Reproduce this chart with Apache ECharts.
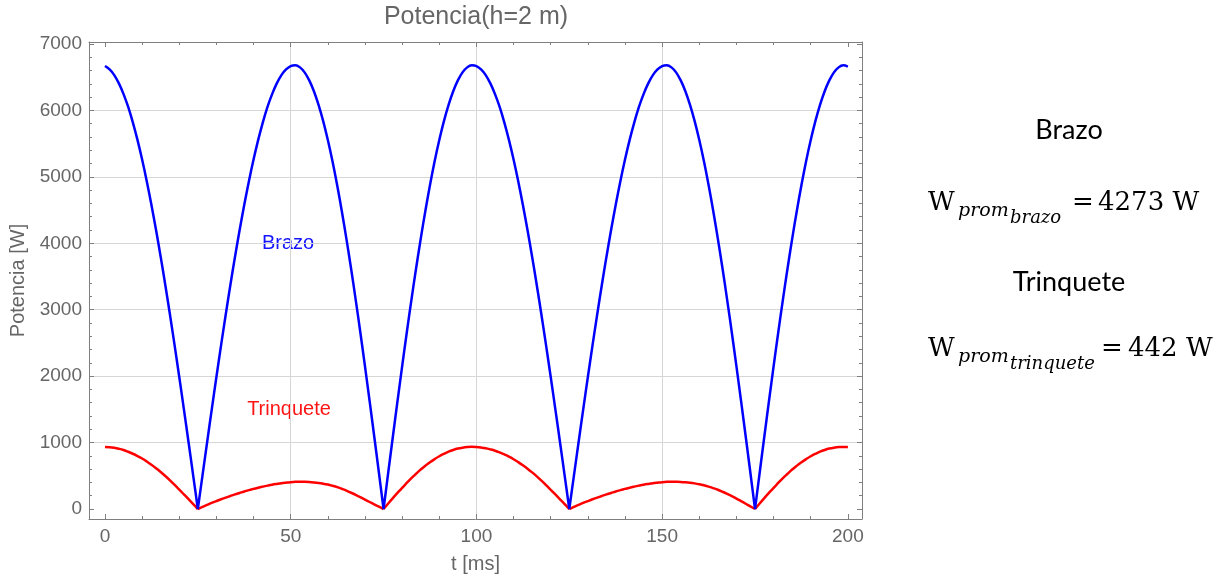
<!DOCTYPE html>
<html><head><meta charset="utf-8">
<script src="https://cdn.jsdelivr.net/npm/echarts@6/dist/echarts.min.js"></script>
<style>html,body{margin:0;padding:0;background:#fff}#c{width:1227px;height:579px}</style>
</head><body><div id="c"></div>
<script>
// time samples [ms]
const tValues = [
  0,1.25,2.5,3.75,5,6.25,7.5,8.75,10,11.25,12.5,13.75,15,16.25,17.5,18.75,
  20,21.25,22.5,23.75,25,26.25,27.5,28.75,30,31.25,32.5,33.75,35,36.25,37.5,38.75,
  40,41.25,42.5,43.75,45,46.25,47.5,48.75,50,51.25,52.5,53.75,55,56.25,57.5,58.75,
  60,61.25,62.5,63.75,65,66.25,67.5,68.75,70,71.25,72.5,73.75,75,76.25,77.5,78.75,
  80,81.25,82.5,83.75,85,86.25,87.5,88.75,90,91.25,92.5,93.75,95,96.25,97.5,98.75,
  100,101.25,102.5,103.75,105,106.25,107.5,108.75,110,111.25,112.5,113.75,115,116.25,117.5,118.75,
  120,121.25,122.5,123.75,125,126.25,127.5,128.75,130,131.25,132.5,133.75,135,136.25,137.5,138.75,
  140,141.25,142.5,143.75,145,146.25,147.5,148.75,150,151.25,152.5,153.75,155,156.25,157.5,158.75,
  160,161.25,162.5,163.75,165,166.25,167.5,168.75,170,171.25,172.5,173.75,175,176.25,177.5,178.75,
  180,181.25,182.5,183.75,185,186.25,187.5,188.75,190,191.25,192.5,193.75,195,196.25,197.5,198.75,
  200];
// Potencia Brazo [W]
const brazo = [
  6668,6617,6532,6407,6246,6053,5821,5556,5260,4934,4579,4199,3795,3369,2924,2463,1987,1501,1005,504,0,
  504,1005,1501,1987,2463,2924,3369,3795,4199,4579,4934,5260,5556,5821,6053,6246,6407,6532,6617,6668,
  6679,6648,6573,6452,6289,6083,5839,5554,5234,4876,4486,4067,3620,3149,2657,2147,1623,1088,546,0,
  546,1088,1623,2147,2657,3149,3620,4067,4486,4876,5234,5554,5839,6083,6289,6452,6573,6648,6679,
  6668,6617,6532,6407,6246,6053,5821,5556,5260,4934,4579,4199,3795,3369,2924,2463,1987,1501,1005,504,0,
  504,1005,1501,1987,2463,2924,3369,3795,4199,4579,4934,5260,5556,5821,6053,6246,6407,6532,6617,6668,
  6679,6648,6573,6452,6289,6083,5839,5554,5234,4876,4486,4067,3620,3149,2657,2147,1623,1088,546,0,
  546,1088,1623,2147,2657,3149,3620,4067,4486,4876,5234,5554,5839,6083,6289,6452,6573,6648,6679,
  6660];
// Potencia Trinquete [W]
const trinquete = [
  934,931,922,907,888,862,832,798,760,716,668,615,558,497,432,363,292,221,148,74,0,
  32,62,92,120,147,172,196,220,242,264,284,303,321,337,352,366,378,389,397,404,
  409,411,410,407,401,393,382,368,350,330,305,278,246,213,178,142,106,70,35,0,
  84,165,243,320,393,465,531,595,652,705,752,795,831,863,889,910,924,933,936,
  932,925,915,898,878,852,822,788,750,706,658,607,552,492,428,361,290,219,147,74,0,
  32,62,92,120,147,172,196,220,242,264,284,303,321,337,352,366,378,389,397,404,
  409,411,410,408,403,396,386,373,357,338,315,290,260,228,194,158,119,80,40,0,
  84,165,243,320,393,465,531,595,652,705,752,795,831,863,889,910,924,933,934,
  934];
const xTickValues = [0,50,100,150,200];
const yTickValues = [0,1000,2000,3000,4000,5000,6000,7000];
const titleText = 'Potencia(h=2 m)';
const xName = 't [ms]';
const yName = 'Potencia [W]';
const seriesNames = ['Brazo','Trinquete'];

function withBreaks(vals){
  const out = [];
  vals.forEach((v,i)=>{
    out.push([tValues[i], v]);
    if (v === 0 && i > 0 && i < vals.length-1) { out.push([tValues[i], '-']); out.push([tValues[i], v]); }
  });
  return out;
}

const AX = '#7f7f7f', LBL = '#666666', GRID = '#d6d6d6', TR = 'rgba(0,0,0,0)';
const FONT = 'Liberation Sans';
function plain(v){ return String(v); }
function xAxisCfg(pos, main){
  return {
    type:'value', position:pos, min:-4.3, max:203.8, splitNumber:4, minInterval:50, maxInterval:50,
    axisLine:{show:true, onZero:false, lineStyle:{color:AX, width:1}},
    axisTick:{show:true, inside:true, length:5, lineStyle:{color:AX}},
    minorTick:{show:true, splitNumber:5, length:3, lineStyle:{color:AX}},
    axisLabel: main ? {customValues:xTickValues, formatter:plain, color:LBL, fontSize:19, fontFamily:FONT, margin:8} : {show:false},
    splitLine: main ? {show:true, showMinLine:false, showMaxLine:false, lineStyle:{color:[TR,GRID,GRID,GRID,TR], width:1}} : {show:false},
    name: main ? xName : '', nameLocation:'middle', nameGap:35,
    nameTextStyle:{color:LBL, fontSize:20, fontFamily:FONT}
  };
}
function yAxisCfg(pos, main){
  return {
    type:'value', position:pos, min:-150, max:7030, splitNumber:7, minInterval:1000, maxInterval:1000,
    axisLine:{show:true, onZero:false, lineStyle:{color:AX, width:1}},
    axisTick:{show:true, inside:true, length:5, lineStyle:{color:AX}},
    minorTick:{show:true, splitNumber:5, length:3, lineStyle:{color:AX}},
    axisLabel: main ? {customValues:yTickValues, formatter:plain, color:LBL, fontSize:19, fontFamily:FONT, margin:7} : {show:false},
    splitLine: main ? {show:true, showMinLine:false, showMaxLine:false, lineStyle:{color:[TR,GRID,GRID,GRID,GRID,GRID,GRID,TR], width:1}} : {show:false},
    name: main ? yName : '', nameLocation:'middle', nameGap:58, nameRotate:90,
    nameTextStyle:{color:LBL, fontSize:20, fontFamily:FONT}
  };
}

const serif = '"DejaVu Serif"';
function txt(text, x, y, font, color, align){
  return {type:'text', x:x, y:y, silent:true, style:{text:text, font:font, fill:color||'#000', align:align||'left', verticalAlign:'middle'}};
}

const chart = echarts.init(document.getElementById('c'), null, {renderer:'canvas'});
chart.setOption({
  animation:false,
  backgroundColor:'#ffffff',
  title:{text:titleText, left:471, top:0, textAlign:'center',
    textStyle:{color:LBL, fontSize:25, fontWeight:'normal', fontFamily:FONT}},
  grid:{left:89, top:42, width:773, height:477, containLabel:false},
  xAxis:[xAxisCfg('bottom', true), xAxisCfg('top', false)],
  yAxis:[yAxisCfg('left', true), yAxisCfg('right', false)],
  series:[
    {name:seriesNames[1], type:'line', data:withBreaks(trinquete), showSymbol:false, smooth:0.4, connectNulls:false,
     lineStyle:{color:'#ff0000', width:2.5}, itemStyle:{color:'#ff0000'}, z:2},
    {name:seriesNames[0], type:'line', data:withBreaks(brazo), showSymbol:false, smooth:0.4, connectNulls:false,
     lineStyle:{color:'#0000ff', width:2.5}, itemStyle:{color:'#0000ff'}, z:3}
  ],
  graphic:[
    txt(seriesNames[0], 288, 243, '20px "Liberation Sans"', '#1414ff', 'center'),
    txt(seriesNames[1], 289, 409, '20px "Liberation Sans"', '#ff1414', 'center'),
    txt('Brazo', 1069, 130, '27px Lato', '#000', 'center'),
    txt('W', 928, 203, '26px '+serif),
    txt('prom', 958, 211, 'italic 19px '+serif),
    txt('brazo', 1010, 218, 'italic 18px '+serif),
    txt('=', 1072, 203, '26px '+serif),
    txt('4273 W', 1098, 203, '26px '+serif),
    txt('Trinquete', 1069, 282, '27px Lato', '#000', 'center'),
    txt('W', 928, 349, '26px '+serif),
    txt('prom', 958, 357, 'italic 19px '+serif),
    txt('trinquete', 1010, 364, 'italic 18px '+serif),
    txt('=', 1101, 349, '26px '+serif),
    txt('442 W', 1128, 349, '26px '+serif)
  ]
});
</script></body></html>
